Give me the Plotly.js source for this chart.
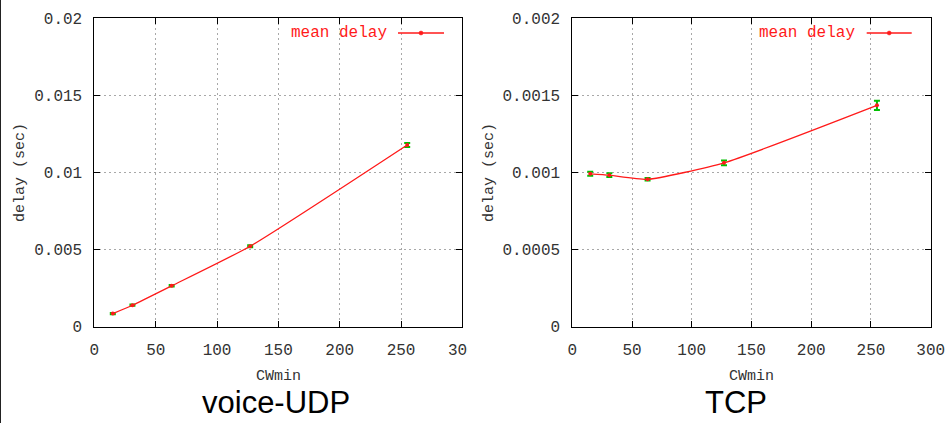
<!DOCTYPE html>
<html>
<head>
<meta charset="utf-8">
<script src="https://cdn.plot.ly/plotly-3.0.1.min.js"></script>
<style>
  html, body { margin: 0; padding: 0; background: #fff; }
  #wrap { position: relative; width: 945px; height: 423px; }
  #chart { width: 945px; height: 423px; }
  #edge { position: absolute; left: 0; top: 0; width: 1px; height: 423px; background: #222; }
</style>
</head>
<body>
<div id="wrap"><div id="chart"></div><div id="edge"></div></div>
<script>
// ---- data ----
const cwmin = [15, 31, 63, 127, 255];
const udpDelay = [0.00084, 0.00138, 0.00264, 0.00521, 0.01178];
const udpErr = [0.00004, 0.00004, 0.00005, 0.00006, 0.00013];
const tcpDelay = [0.000991, 0.000982, 0.000955, 0.001062, 0.001435];
const tcpErr = [0.000013, 0.000012, 0.000008, 0.000016, 0.00003];

const xTickVals = [0, 50, 100, 150, 200, 250, 300];
const xTickText = ["0", "50", "100", "150", "200", "250", "300"];
const udpTickVals = [0, 0.005, 0.01, 0.015, 0.02];
const udpTickText = ["0", "0.005", "0.01", "0.015", "0.02"];
const tcpTickVals = [0, 0.0005, 0.001, 0.0015, 0.002];
const tcpTickText = ["0", "0.0005", "0.001", "0.0015", "0.002"];

const seriesName = "mean delay";
const xTitle = "CWmin";
const yTitle = "delay (sec)";
const panelTitles = ["voice-UDP", "TCP"];

// ---- style ----
const W = 945, H = 423;
const RED = "#ff1a1a", GREEN = "#00c000";
const MONO = "Liberation Mono, DejaVu Sans Mono, monospace";
const px = v => v / W;
const py = v => 1 - v / H;

function trace(y, err, xa, ya) {
  return {
    x: cwmin, y: y, xaxis: xa, yaxis: ya, name: seriesName,
    type: "scatter", mode: "lines+markers",
    line: { color: RED, width: 1.3, shape: "spline", smoothing: 0.5 },
    marker: { color: RED, size: 4, symbol: "circle" },
    error_y: { type: "data", array: err, visible: true, color: GREEN, thickness: 2, width: 3 },
    showlegend: false, hoverinfo: "x+y"
  };
}

function xaxis(domain, anchor) {
  return {
    domain: domain, anchor: anchor, range: [0, 300],
    tickmode: "array", tickvals: xTickVals, ticktext: xTickText,
    ticks: "inside", ticklen: 6, tickcolor: "#000", tickwidth: 1,
    showline: true, linecolor: "#000", linewidth: 1, mirror: "ticks",
    showgrid: true, gridcolor: "#a8a8a8", gridwidth: 1, griddash: "2px,3px",
    zeroline: false,
    tickfont: { family: MONO, size: 16, color: "#333" },
    ticklabelstandoff: 8, ticklabeloverflow: "allow",
    title: { text: xTitle, font: { family: MONO, size: 15, color: "#333" }, standoff: 10 }
  };
}
function yaxis(domain, anchor, vals, text) {
  return {
    domain: domain, anchor: anchor, range: [0, vals[vals.length - 1]],
    tickmode: "array", tickvals: vals, ticktext: text,
    ticks: "inside", ticklen: 6, tickcolor: "#000", tickwidth: 1,
    showline: true, linecolor: "#000", linewidth: 1, mirror: "ticks",
    showgrid: true, gridcolor: "#a8a8a8", gridwidth: 1, griddash: "2px,3px",
    zeroline: false,
    tickfont: { family: MONO, size: 16, color: "#333" },
    ticklabelstandoff: 8, ticklabeloverflow: "allow",
    title: { text: yTitle, font: { family: MONO, size: 15, color: "#333" }, standoff: 5 }
  };
}

const yDom = [py(326.5), py(18.3)];
const data = [
  trace(udpDelay, udpErr, "x", "y"),
  trace(tcpDelay, tcpErr, "x2", "y2")
];

function legendKey(x0, x1, textRight) {
  return {
    shapes: [
      { type: "line", xref: "paper", yref: "paper", x0: px(x0), x1: px(x1), y0: py(33), y1: py(33),
        line: { color: RED, width: 1.3 } },
      { type: "circle", xref: "paper", yref: "paper",
        x0: px((x0 + x1) / 2 - 2), x1: px((x0 + x1) / 2 + 2), y0: py(35), y1: py(31),
        fillcolor: RED, line: { color: RED, width: 0.5 } }
    ],
    ann: { text: seriesName, xref: "paper", yref: "paper", x: px(textRight), y: py(33),
      xanchor: "right", yanchor: "middle", showarrow: false,
      font: { family: MONO, size: 16, color: RED } }
  };
}
const k1 = legendKey(398, 444, 389);
const k2 = legendKey(866.7, 911.7, 857);

const titleFont = { family: "Liberation Sans, Arial, sans-serif", size: 31, color: "#000" };
const layout = {
  width: W, height: H,
  margin: { l: 0, r: 0, t: 0, b: 0 },
  paper_bgcolor: "#fff", plot_bgcolor: "#fff",
  showlegend: false,
  xaxis: xaxis([px(94.4), px(462.4)], "y"),
  yaxis: yaxis(yDom, "x", udpTickVals, udpTickText),
  xaxis2: xaxis([px(572.3), px(930.7)], "y2"),
  yaxis2: yaxis(yDom, "x2", tcpTickVals, tcpTickText),
  shapes: k1.shapes.concat(k2.shapes).concat([
    // crop edge of the left picture (hides the clipped last digit)
    { type: "rect", xref: "paper", yref: "paper", x0: px(467.5), x1: px(478), y0: py(360), y1: py(334),
      fillcolor: "#fff", line: { width: 0 }, layer: "above" }
  ]),
  annotations: [
    k1.ann, k2.ann,
    { text: panelTitles[0], xref: "paper", yref: "paper", x: px(276), y: 0, xanchor: "center", yanchor: "bottom",
      yshift: 1, showarrow: false, font: titleFont },
    { text: panelTitles[1], xref: "paper", yref: "paper", x: px(736), y: 0, xanchor: "center", yanchor: "bottom",
      yshift: 1, showarrow: false, font: titleFont }
  ]
};

Plotly.newPlot("chart", data, layout, { displayModeBar: false, staticPlot: true });
</script>
</body>
</html>
